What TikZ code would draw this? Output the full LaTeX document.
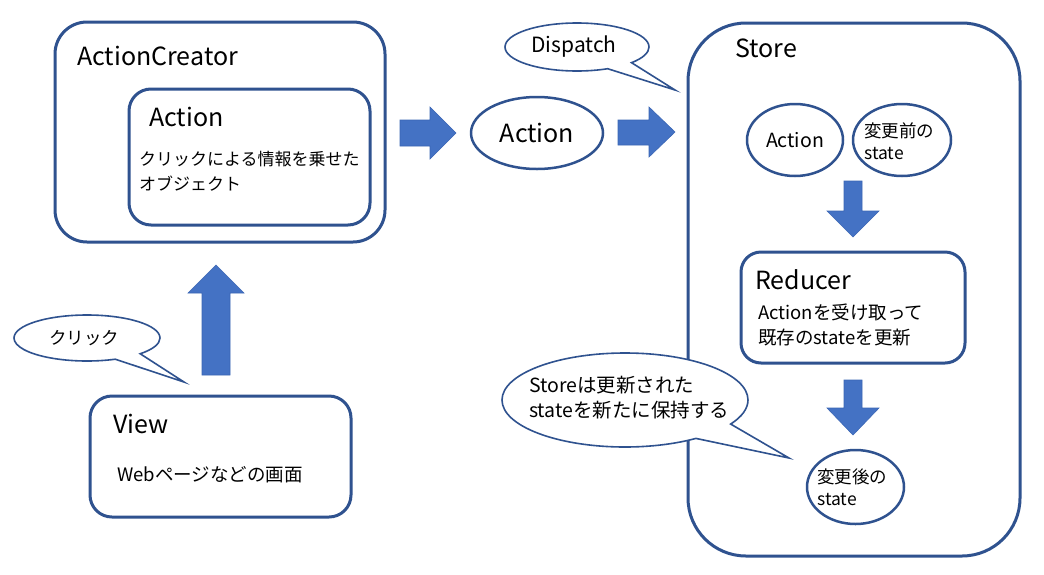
\documentclass[tikz,border=0pt]{standalone}
\usepackage{fontspec}
\setmainfont{Noto Sans CJK JP}
\usetikzlibrary{shapes.geometric,shapes.callouts}
\definecolor{linec}{HTML}{2F528F}
\definecolor{arrc}{HTML}{4472C4}
\definecolor{arrd}{HTML}{3B66B5}
\newcommand\fzL{\fontsize{25}{28}\selectfont}
\newcommand\fzM{\fontsize{21}{25}\selectfont}
\newcommand\fzS{\fontsize{17}{25}\selectfont}
\newcommand\fzW{\fontsize{18.5}{25}\selectfont}
\newcommand\fzR{\fontsize{18.5}{25.5}\selectfont}
\newcommand\fzT{\fontsize{17.5}{22}\selectfont}
\newcommand\fzC{\fontsize{19.5}{25}\selectfont}
\begin{document}
\begin{tikzpicture}[x=1pt,y=-1pt,
  box/.style={draw=linec, line width=3pt, fill=white, rounded corners=22pt, inner sep=0pt},
  oval/.style={ellipse, draw=linec, line width=2.5pt, fill=white, inner sep=0pt},
  bubble/.style={ellipse callout, draw=linec, line width=1.6pt, fill=white, inner sep=0pt, callout pointer arc=24},
  blk/.style={fill=arrc, draw=arrd, line width=0.6pt},
  lbl/.style={anchor=west, inner sep=0pt, align=left}]
\useasboundingbox (0,0) rectangle (1044,574);
\fill[white] (0,0) rectangle (1044,574);

% ActionCreator
\node[box, rounded corners=32pt, minimum width=330pt, minimum height=220pt] (creator) at (220,132) {};
\node[lbl, font=\fzL] (creatorlbl) at (77,56) {ActionCreator};
\node[box, minimum width=241pt, minimum height=136pt] (inner) at (249.5,157) {};
\node[lbl, font=\fzL] (innerlbl) at (149,117) {Action};
\node[lbl, font=\fzS] (innertxt) at (139,171) {クリックによる情報を乗せた\\オブジェクト};

% View
\node[box, minimum width=261pt, minimum height=121pt] (view) at (220.5,456.5) {};
\node[lbl, font=\fzL] (viewlbl) at (113,424) {View};
\node[lbl, font=\fzW] (viewtxt) at (117,475) {Webページなどの画面};

% click bubble
\node[bubble, minimum width=146pt, minimum height=46pt, callout absolute pointer={(184,382)}] (click) at (87,338) {};
\node[font=\fzT, inner sep=0pt] (clicktxt) at (84,338) {クリック};

% up arrow
\path[blk] (202,375) -- (230,375) -- (230,293) -- (244,293) -- (216,265) -- (188,293) -- (202,293) -- cycle;

% right arrows
\path[blk] (400,120) -- (430,120) -- (430,107) -- (456,133) -- (430,159) -- (430,146) -- (400,146) -- cycle;
\path[blk] (618,120) -- (649,120) -- (649,107) -- (675,132) -- (649,157) -- (649,145) -- (618,145) -- cycle;

% Action ellipse
\node[oval, minimum width=132pt, minimum height=72pt, font=\fontsize{25}{30}\selectfont] (action) at (537,133) {Action};

% Dispatch bubble
\node[bubble, minimum width=144pt, minimum height=48pt, callout absolute pointer={(675,90)}] (dispatch) at (577,47) {};
\node[font=\fzM, inner sep=0pt] (dispatchtxt) at (574,47) {Dispatch};

% Store
\node[box, rounded corners=58pt, minimum width=332pt, minimum height=533pt] (store) at (854,289.5) {};
\node[lbl, font=\fzL] (storelbl) at (735,48) {Store};

\node[oval, minimum width=96pt, minimum height=72pt, font=\fontsize{19.5}{24}\selectfont] (saction) at (795,140) {Action};
\node[oval, minimum width=98pt, minimum height=72pt] (before) at (902,140) {};
\node[lbl, font=\fzT] (beforetxt) at (864,141) {変更前の\\state};

\path[blk] (844,181) -- (862,181) -- (862,211) -- (879,211) -- (853,237) -- (827,211) -- (844,211) -- cycle;

\node[box, rounded corners=20pt, minimum width=224pt, minimum height=111pt] (reducer) at (853,307.5) {};
\node[lbl, font=\fzL] (reducerlbl) at (755,280) {Reducer};
\node[lbl, font=\fzR] (reducertxt) at (758,325) {Actionを受け取って\\既存のstateを更新};

\path[blk] (844,380) -- (862,380) -- (862,408) -- (879,408) -- (853,435) -- (827,408) -- (844,408) -- cycle;

\node[oval, minimum width=97pt, minimum height=74pt] (after) at (855.5,487) {};
\node[lbl, font=\fzT] (aftertxt) at (817,487.5) {変更後の\\state};

% Store bubble
\node[bubble, minimum width=246pt, minimum height=94pt, callout absolute pointer={(789,458)}] (keep) at (625,400) {};
\node[lbl, font=\fzC] (keeptxt) at (529,397.5) {Storeは更新された\\stateを新たに保持する};
\end{tikzpicture}
\end{document}
